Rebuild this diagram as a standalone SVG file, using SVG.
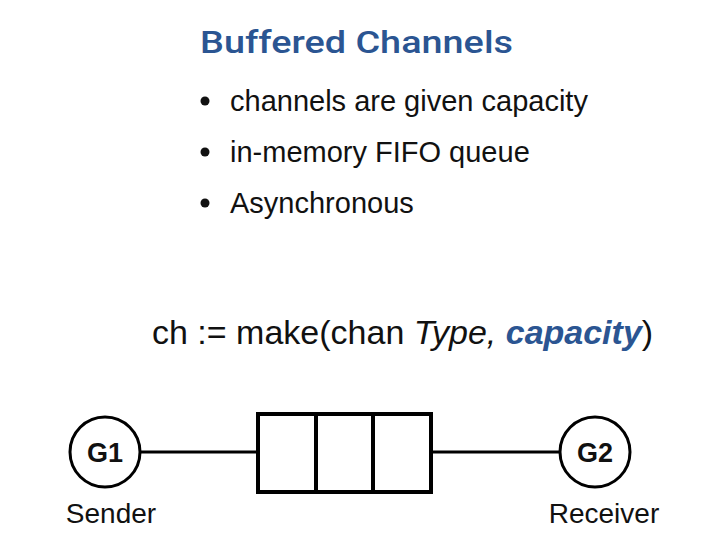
<svg xmlns="http://www.w3.org/2000/svg" width="727" height="557" viewBox="0 0 727 557">
<style>
text{font-family:"Liberation Sans",Arial,sans-serif;fill:#111}
.title{font-family:Roboto,"Liberation Sans",sans-serif;font-weight:500;font-size:31px;fill:#2B5592}
.bul{font-size:29px}
.code{font-size:34px}
.lbl{font-size:28px;text-anchor:middle}
.g{font-size:27px;font-weight:bold;text-anchor:middle}
.node{fill:#fff;stroke:#000;stroke-width:3}
.conn{stroke:#000;stroke-width:3;fill:none}
.buf{fill:#fff;stroke:#000;stroke-width:4}
</style>
<rect width="727" height="557" fill="#fff"/>
<g id="title">
<text class="title" x="200" y="53" textLength="313" lengthAdjust="spacingAndGlyphs">Buffered Channels</text>
</g>
<g id="bullets">
<circle cx="205" cy="101" r="4.5" fill="#111"/>
<text class="bul" x="230" y="111">channels are given capacity</text>
<circle cx="205" cy="152" r="4.5" fill="#111"/>
<text class="bul" x="230" y="162">in-memory FIFO queue</text>
<circle cx="205" cy="203" r="4.5" fill="#111"/>
<text class="bul" x="230" y="213">Asynchronous</text>
</g>
<g id="code">
<text class="code" x="152" y="344">ch := make(chan <tspan font-style="italic">Type, </tspan><tspan font-style="italic" font-weight="bold" fill="#2B5592">capacity</tspan>)</text>
</g>
<g id="connectors">
<line class="conn" x1="140" y1="452" x2="258" y2="452"/>
<line class="conn" x1="431" y1="452" x2="560" y2="452"/>
</g>
<g id="buffer">
<rect class="buf" x="258" y="414" width="173" height="78"/>
<line class="buf" x1="316" y1="414" x2="316" y2="492"/>
<line class="buf" x1="373" y1="414" x2="373" y2="492"/>
</g>
<g id="G1">
<circle class="node" cx="105" cy="452" r="35"/>
<text class="g" x="105" y="462">G1</text>
<text class="lbl" x="111" y="523">Sender</text>
</g>
<g id="G2">
<circle class="node" cx="595" cy="452" r="35"/>
<text class="g" x="595" y="462">G2</text>
<text class="lbl" x="604" y="523">Receiver</text>
</g>
</svg>
